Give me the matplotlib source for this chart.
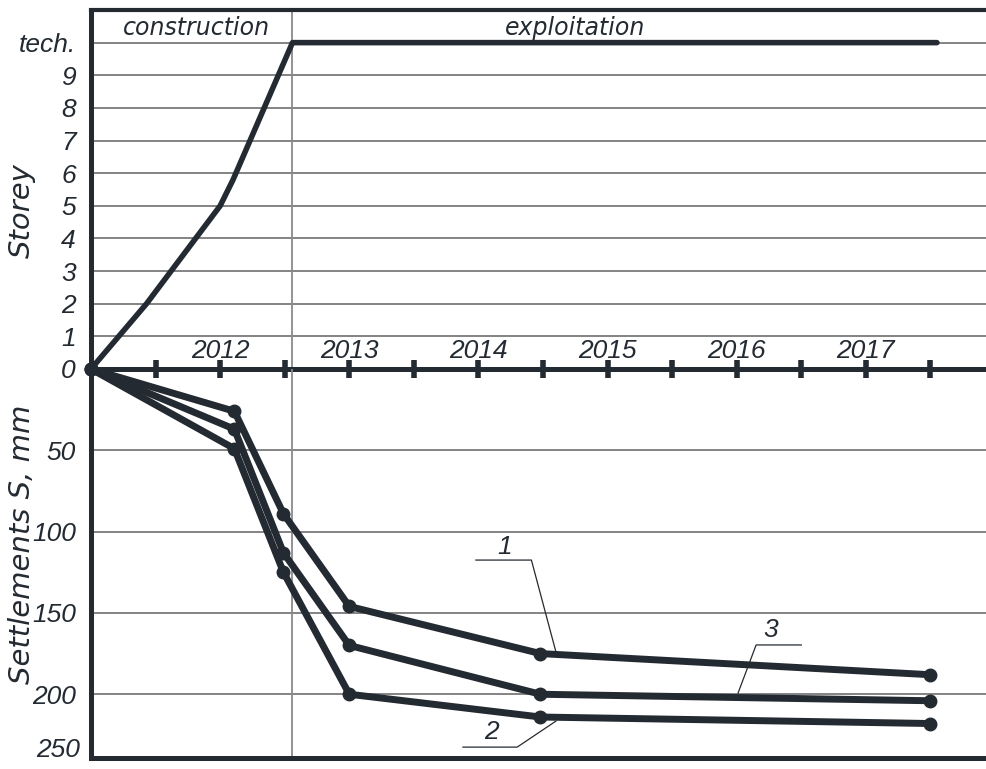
import numpy as np
import matplotlib
matplotlib.use("Agg")
import matplotlib.pyplot as plt

# storey growth during construction
storey_x = [2011.0, 2011.43, 2012.0, 2012.10, 2012.56, 2017.55]
storey_y = [0, 2, 5, 5.8, 10, 10]
storey_ticks = list(range(0, 11))
storey_labels = ['0', '1', '2', '3', '4', '5', '6', '7', '8', '9', 'tech.']

# settlements, three survey points
settle_x = [2011.0, 2012.11, 2012.49, 2013.0, 2014.48, 2017.5]
settle_1 = [0, 26, 89, 146, 175, 188]
settle_2 = [0, 49, 125, 200, 214, 218]
settle_3 = [0, 37, 113, 170, 200, 204]
settle_ticks = [50, 100, 150, 200]
years = [2012, 2013, 2014, 2015, 2016, 2017]

# construction / exploitation boundary
x_split = 2012.56
x_lim = (2011.0, 2017.93)
s_lim = 239.2

dark = '#232a31'
grid_c = '#6e6e6e'
num_font = dict(family='Liberation Sans', style='italic', size=19, color=dark)
word_font = dict(family='DejaVu Sans', style='italic', size=17, color=dark)

fig = plt.figure(figsize=(9.86, 7.69), dpi=100)
ax_top = fig.add_axes([0.0923, 0.5202, 0.9077, 0.4668])
ax_bot = fig.add_axes([0.0923, 0.0143, 0.9077, 0.5059])
ax_bot.patch.set_visible(False)

# ---- upper part: storeys
ax_top.set_xlim(*x_lim)
ax_top.set_ylim(0, 11)
ax_top.set_yticks(storey_ticks)
ax_top.set_yticklabels(storey_labels, fontdict=num_font)
ax_top.yaxis.grid(True, color=grid_c, lw=1.2)
ax_top.set_axisbelow(True)
ax_top.set_xticks(np.arange(2011.5, 2018, 0.5))
ax_top.tick_params(axis='x', direction='inout', length=13, width=4, color=dark, labelbottom=False)
ax_top.tick_params(axis='y', length=0, pad=11)
ax_top.axvline(x_split, color='#8a8a8a', lw=1.3)
ax_top.plot(storey_x, storey_y, color=dark, lw=4, solid_capstyle='round', solid_joinstyle='round', clip_on=False, zorder=5)
for y in years:
    ax_top.text(y, 0.55, str(y), ha='center', va='center', **num_font)
ax_top.text(2011.82, 10.46, 'construction', ha='center', va='center', **word_font)
ax_top.text(2014.75, 10.46, 'exploitation', ha='center', va='center', **word_font)
ax_top.set_ylabel('Storey', fontsize=21, style='italic', color=dark)
ax_top.yaxis.set_label_coords(-0.062, 0.44)

for side in ['top', 'left', 'bottom']:
    ax_top.spines[side].set_color(dark)
ax_top.spines['top'].set_linewidth(3)
ax_top.spines['left'].set_linewidth(3.6)
ax_top.spines['bottom'].set_linewidth(3.6)
ax_top.spines['right'].set_visible(False)

# ---- lower part: settlements
ax_bot.set_xlim(*x_lim)
ax_bot.set_ylim(s_lim, 0)
ax_bot.set_yticks(settle_ticks)
ax_bot.set_yticklabels([str(t) for t in settle_ticks], fontdict=num_font)
ax_bot.text(-0.012, 0.02, '250', ha='right', va='center', transform=ax_bot.transAxes, **num_font)
ax_bot.yaxis.grid(True, color=grid_c, lw=1.2)
ax_bot.set_axisbelow(True)
ax_bot.set_xticks([])
ax_bot.tick_params(axis='y', length=0, pad=11)
ax_bot.axvline(x_split, color='#8a8a8a', lw=1.3)
for s in [settle_1, settle_3, settle_2]:
    ax_bot.plot(settle_x, s, color=dark, lw=5, marker='o', ms=9, solid_capstyle='round',
                solid_joinstyle='round', clip_on=False, zorder=5)

# leader lines with curve numbers
leaders = [
    ('1', (2014.20, 109.5), [(2013.98, 117.5), (2014.41, 117.5), (2014.60, 174)]),
    ('3', (2016.26, 160.5), [(2016.50, 169.7), (2016.15, 169.7), (2016.01, 199.3)]),
    ('2', (2014.10, 223.0), [(2013.88, 232.5), (2014.30, 232.5), (2014.60, 216.5)]),
]
for lab, pos, pts in leaders:
    xs, ys = zip(*pts)
    ax_bot.plot(xs, ys, color=dark, lw=0.9, zorder=4)
    ax_bot.text(pos[0], pos[1], lab, ha='center', va='center', **num_font)

ax_bot.set_ylabel('Settlements S, mm', fontsize=21, style='italic', color=dark)
ax_bot.yaxis.set_label_coords(-0.062, 0.548)
ax_bot.spines['top'].set_visible(False)
ax_bot.spines['right'].set_visible(False)
ax_bot.spines['left'].set_linewidth(3.6)
ax_bot.spines['bottom'].set_linewidth(3.6)
ax_bot.spines['left'].set_color(dark)
ax_bot.spines['bottom'].set_color(dark)

fig.savefig('out.png', dpi=100)
